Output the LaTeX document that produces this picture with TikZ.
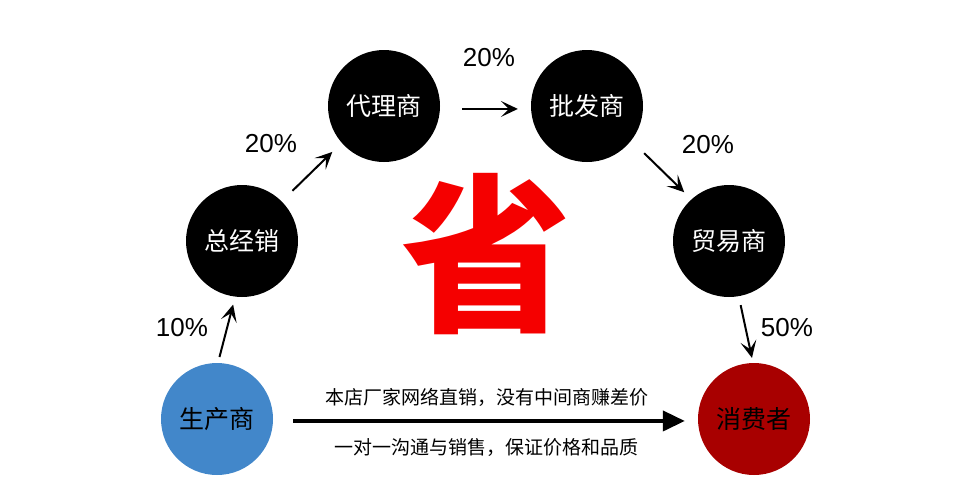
\documentclass[tikz,border=0pt]{standalone}
\usepackage{fontspec}
\setmainfont{Liberation Sans}
\newfontfamily\cjk{Noto Sans CJK SC}
\usetikzlibrary{arrows.meta,positioning}
\definecolor{makerblue}{RGB}{66,135,202}
\definecolor{buyerred}{RGB}{168,0,0}
\definecolor{savered}{RGB}{245,0,0}

\begin{document}
\begin{tikzpicture}[x=1pt, y=-1pt,
    stage/.style={circle, draw=none, fill=black, minimum size=112pt, inner sep=0pt, text=white, font=\cjk\fontsize{25}{25}\selectfont},
    pct/.style={font=\fontsize{26}{26}\selectfont},
    note/.style={font=\cjk\fontsize{19}{19}\selectfont},
    flow/.style={-{Stealth[length=17pt, width=16pt, inset=8pt]}, line width=2pt},
    direct/.style={-{Triangle[length=22pt, width=20pt]}, line width=4pt}
]
\useasboundingbox (0,0) rectangle (977,499);

% Stages of the chain
\node[stage, fill=makerblue, text=black] (maker) at (217,419) {生产商};
\node[stage] (dist) at (242,241) {总经销};
\node[stage] (agent) at (384,106) {代理商};
\node[stage] (whole) at (587,106) {批发商};
\node[stage] (trade) at (729,241) {贸易商};
\node[stage, fill=buyerred, text=black] (buyer) at (754,419) {消费者};

% Big character
\node[text=savered, font=\cjk\bfseries\fontsize{170}{170}\selectfont] (save) at (486,254) {省};

% Markups
\node[pct] (p1) at (182,328) {10\%};
\node[pct] (p2) at (271,144) {20\%};
\node[pct] (p3) at (489,58) {20\%};
\node[pct] (p4) at (708,145) {20\%};
\node[pct] (p5) at (787,328) {50\%};

% Chain arrows
\draw[flow, shorten <=6pt, shorten >=8pt] (maker.89) -- (dist.263);
\draw[flow, shorten <=15pt, shorten >=13pt] (dist.45.6) -- (agent.221.5);
\draw[flow, shorten <=22pt, shorten >=13pt] (agent.-3) -- (whole.183);
\draw[flow, shorten <=18pt, shorten >=10pt] (whole.-38) -- (trade.132);
\draw[flow, shorten <=9pt, shorten >=5pt] (trade.-80) -- (buyer.91);

% Direct sale
\draw[direct, shorten <=20pt, shorten >=13pt] (maker.-2) -- (buyer.182);
\node[note] (top) at (487,397) {本店厂家网络直销，没有中间商赚差价};
\node[note] (bottom) at (486,448) {一对一沟通与销售，保证价格和品质};

\end{tikzpicture}
\end{document}
